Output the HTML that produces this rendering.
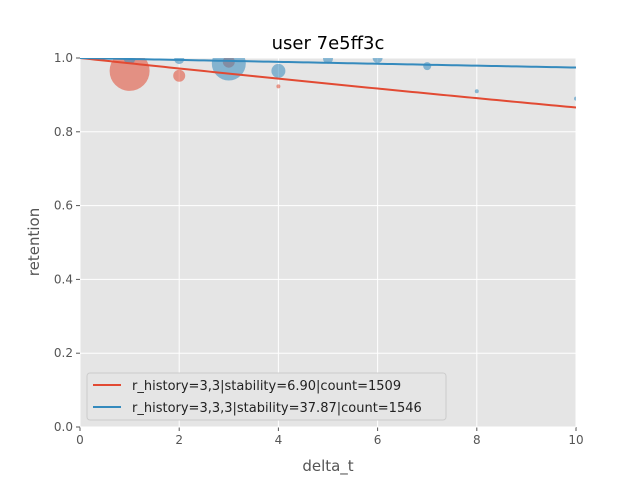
<!DOCTYPE html>
<html><head><meta charset="utf-8"><style>body{margin:0;background:#fff}svg{display:block;font-family:"DejaVu Sans","Liberation Sans",sans-serif}</style></head>
<body>
<svg id="c" width="640" height="480"></svg>
<script>
const redX=[1,2,3,4];
const redY=[0.965,0.952,0.99,0.923];
const redR=[20,6,6,2];
const blueX=[1,2,3,4,5,6,7,8,10];
const blueY=[1.0,0.997,0.985,0.965,0.998,1.0,0.978,0.91,0.89];
const blueR=[6,5,17,7,5,5,4,2,2];
const stabilities=[6.90,37.87];
const labels=["r_history=3,3|stability=6.90|count=1509","r_history=3,3,3|stability=37.87|count=1546"];
const xTicks=[0,2,4,6,8,10];
const yTicks=[0,0.2,0.4,0.6,0.8,1.0];
const L=80,R=576,T=58,B=427;
const sx=v=>L+(R-L)*v/10, sy=v=>B-(B-T)*v;
const s=document.getElementById('c');const NS='http://www.w3.org/2000/svg';
function el(t,a,p){const e=document.createElementNS(NS,t);for(const k in a)e.setAttribute(k,a[k]);(p||s).appendChild(e);return e;}
const defs=el('defs',{});const cp=el('clipPath',{id:'cl'},defs);el('rect',{x:L,y:T,width:R-L,height:B-T},cp);
const bg=el('rect',{x:L,y:T,width:R-L,height:B-T,fill:'#e5e5e5'});


xTicks.forEach(v=>{el('line',{x1:sx(v),x2:sx(v),y1:T,y2:B,stroke:'#fff','stroke-width':1});
el('line',{x1:sx(v),x2:sx(v),y1:B,y2:B+4,stroke:'#555'});
const t=el('text',{x:sx(v),y:B+17,'text-anchor':'middle','font-size':12,fill:'#555'});t.textContent=v;

});
yTicks.forEach(v=>{el('line',{x1:L,x2:R,y1:sy(v),y2:sy(v),stroke:'#fff','stroke-width':1});
el('line',{x1:L-4,x2:L,y1:sy(v),y2:sy(v),stroke:'#555'});
const t=el('text',{x:L-7,y:sy(v)+4,'text-anchor':'end','font-size':12,fill:'#555'});t.textContent=v.toFixed(1);

});
const g=el('g',{'clip-path':'url(#cl)'});
const cols=['#E24A33','#348ABD'];
[[redX,redY,redR],[blueX,blueY,blueR]].forEach((d,i)=>{d[0].forEach((x,j)=>{const c=el('circle',{cx:sx(x),cy:sy(d[1][j]),r:d[2][j],fill:cols[i],'fill-opacity':0.55},g);

});});
stabilities.forEach((S,i)=>{let p='';for(let k=0;k<=100;k++){const t=k/10;p+=(k?'L':'M')+sx(t)+','+sy(Math.pow(0.9,t/(S*1.06)));}
const l=el('path',{d:p,stroke:cols[i],'stroke-width':2,fill:'none'},g);

});
const tt=el('text',{x:328,y:49,'text-anchor':'middle','font-size':18,fill:'#000'});tt.textContent='user 7e5ff3c';


const xl=el('text',{x:328,y:471,'text-anchor':'middle','font-size':15,fill:'#555'});xl.textContent='delta_t';


const yl=el('text',{x:39,y:242,'text-anchor':'middle','font-size':15,fill:'#555',transform:'rotate(-90 39 242)'});yl.textContent='retention';


const lg=el('g',{});


el('rect',{x:87,y:373,width:359,height:47,rx:3,fill:'#e5e5e5',stroke:'#ccc'},lg);
labels.forEach((lb,i)=>{const y=385+i*22;el('line',{x1:93,x2:121,y1:y,y2:y,stroke:cols[i],'stroke-width':2},lg);
const t=el('text',{x:132,y:y+5,'font-size':13,fill:'#222'},lg);t.textContent=lb;

});
</script>
</body></html>
